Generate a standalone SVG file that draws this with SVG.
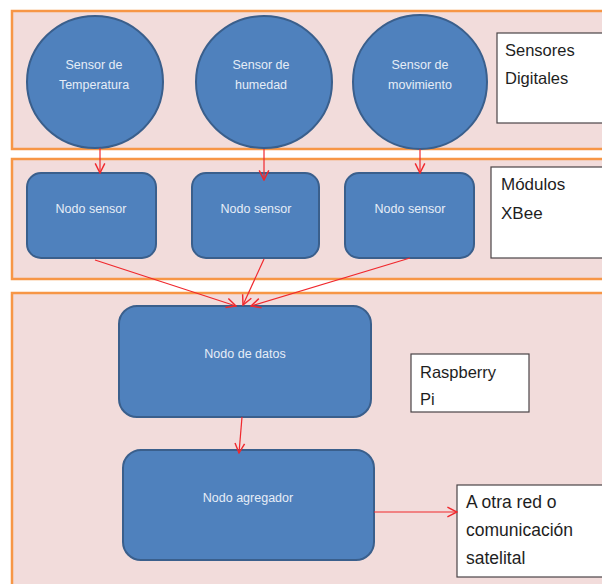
<svg xmlns="http://www.w3.org/2000/svg" width="602" height="584" viewBox="0 0 602 584">
  <style>
    .panel { fill: #f2dcdb; stroke: #f79646; stroke-width: 2.5; }
    .node { fill: #4f81bd; stroke: #3a5f8c; stroke-width: 2; }
    .nlabel { font-family: "Liberation Sans", Arial, sans-serif; font-size: 12.5px; fill: #e6edf7; text-anchor: middle; }
    .tag { fill: #ffffff; stroke: #4a4446; stroke-width: 1.2; }
    .tlabel { font-family: "Liberation Sans", Arial, sans-serif; fill: #1e1e1e; }
    .link { stroke: #f0282d; stroke-width: 1.2; fill: none; marker-end: url(#arrow); }
  </style>
  <defs>
    <marker id="arrow" markerUnits="userSpaceOnUse" markerWidth="12" markerHeight="12" viewBox="0 0 10 10" refX="9" refY="5" orient="auto">
      <path d="M1,1 L9,5 L1,9" fill="none" stroke="#f0282d" stroke-width="1.2"/>
    </marker>
  </defs>

  <rect width="602" height="584" fill="#ffffff"/>

  <!-- layer bands -->
  <rect id="band-sensores" class="panel" x="12" y="11" width="610" height="138"/>
  <rect id="band-xbee" class="panel" x="12" y="159" width="610" height="120"/>
  <rect id="band-raspberry" class="panel" x="12" y="293" width="610" height="310"/>

  <!-- sensors -->
  <g id="sensor-temperatura">
    <ellipse class="node" cx="95" cy="82" rx="68" ry="66" stroke-width="1.5"/>
    <text class="nlabel" x="94" y="69">Sensor de</text>
    <text class="nlabel" x="94" y="89">Temperatura</text>
  </g>
  <g id="sensor-humedad">
    <ellipse class="node" cx="264" cy="82" rx="68" ry="66" stroke-width="1.5"/>
    <text class="nlabel" x="261" y="69">Sensor de</text>
    <text class="nlabel" x="261" y="89">humedad</text>
  </g>
  <g id="sensor-movimiento">
    <ellipse class="node" cx="420" cy="82" rx="67" ry="67" stroke-width="1.5"/>
    <text class="nlabel" x="420" y="69">Sensor de</text>
    <text class="nlabel" x="420" y="89">movimiento</text>
  </g>
  <g id="tag-sensores">
    <rect class="tag" x="497" y="33" width="120" height="90"/>
    <text class="tlabel" x="505" y="56" font-size="16.5">Sensores</text>
    <text class="tlabel" x="505" y="84" font-size="16.5">Digitales</text>
  </g>

  <!-- XBee modules -->
  <g id="nodo-sensor-1">
    <rect class="node" x="27" y="173" width="129" height="85" rx="14"/>
    <text class="nlabel" x="91" y="213">Nodo sensor</text>
  </g>
  <g id="nodo-sensor-2">
    <rect class="node" x="192" y="173" width="127" height="85" rx="14"/>
    <text class="nlabel" x="256" y="213">Nodo sensor</text>
  </g>
  <g id="nodo-sensor-3">
    <rect class="node" x="345" y="173" width="129" height="85" rx="14"/>
    <text class="nlabel" x="410" y="213">Nodo sensor</text>
  </g>
  <g id="tag-xbee">
    <rect class="tag" x="491" y="167" width="125" height="91"/>
    <text class="tlabel" x="501" y="190" font-size="17">Módulos</text>
    <text class="tlabel" x="501" y="219" font-size="17">XBee</text>
  </g>

  <!-- Raspberry Pi -->
  <g id="nodo-datos">
    <rect class="node" x="119" y="306" width="252" height="111" rx="18"/>
    <text class="nlabel" x="245" y="358">Nodo de datos</text>
  </g>
  <g id="tag-raspberry">
    <rect class="tag" x="411" y="354" width="118" height="58"/>
    <text class="tlabel" x="420" y="378" font-size="16.5">Raspberry</text>
    <text class="tlabel" x="420" y="405" font-size="16.5">Pi</text>
  </g>
  <g id="nodo-agregador">
    <rect class="node" x="123" y="450" width="251" height="110" rx="18"/>
    <text class="nlabel" x="248" y="502">Nodo agregador</text>
  </g>
  <g id="tag-salida">
    <rect class="tag" x="457" y="485" width="150" height="92"/>
    <text class="tlabel" x="466" y="508" font-size="17.5">A otra red o</text>
    <text class="tlabel" x="466" y="536" font-size="17.5">comunicación</text>
    <text class="tlabel" x="466" y="564" font-size="17.5">satelital</text>
  </g>

  <!-- connectors -->
  <g id="connectors">
    <line class="link" x1="100" y1="148" x2="100" y2="173"/>
    <line class="link" x1="264" y1="149" x2="264" y2="180"/>
    <line class="link" x1="420" y1="149" x2="420" y2="173"/>
    <line class="link" x1="95" y1="260" x2="236" y2="306"/>
    <line class="link" x1="264" y1="259" x2="243" y2="305"/>
    <line class="link" x1="410" y1="258" x2="251" y2="306"/>
    <line class="link" x1="242" y1="417" x2="239" y2="453"/>
    <line class="link" x1="374" y1="512" x2="457" y2="512"/>
  </g>
</svg>
